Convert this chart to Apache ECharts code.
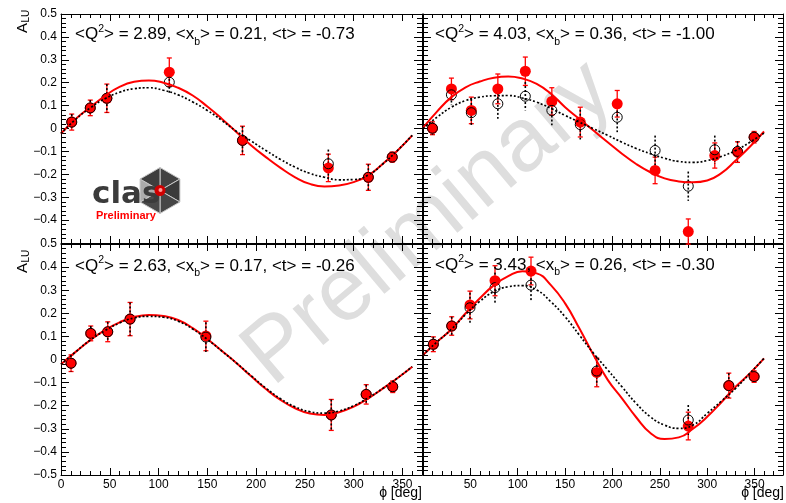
<!DOCTYPE html>
<html>
<head>
<meta charset="utf-8">
<script src="https://cdn.jsdelivr.net/npm/echarts@6/dist/echarts.min.js"></script>
<style>
  html, body { margin: 0; padding: 0; background: #fff; }
  #chart { width: 786px; height: 503px; }
</style>
</head>
<body>
<div id="chart"></div>
<script>
// ---- Kinematic bin labels ----
const headerQ2 = ['2.89', '4.03', '2.63', '3.43'];
const headerXb = ['0.21', '0.36', '0.17', '0.26'];
const headerT  = ['-0.73', '-1.00', '-0.26', '-0.30'];

// ---- Axis ticks ----
const yTicks = [-0.5, -0.4, -0.3, -0.2, -0.1, 0, 0.1, 0.2, 0.3, 0.4, 0.5];
const xTickStep = 50;

// ---- Bin 1: <Q2> = 2.89 ----
const phiP1      = [11, 30, 47, 111, 186, 274, 315, 339.5];
const fillP1     = [0.028, 0.09, 0.132, 0.246, -0.052, -0.172, -0.213, -0.125];
const fillErrP1  = [0.035, 0.034, 0.062, 0.062, 0.062, 0.06, 0.057, 0.022];
const openP1     = [0.028, 0.09, 0.132, 0.202, -0.052, -0.154, -0.213, -0.125];
const openErrP1  = [0.035, 0.034, 0.062, 0.05, 0.062, 0.062, 0.057, 0.022];

// ---- Bin 2: <Q2> = 4.03 ----
const phiP2      = [10, 30, 51, 79, 108, 136, 166, 205, 245, 280, 308, 332, 349.5];
const fillP2     = [0.001, 0.173, 0.079, 0.173, 0.25, 0.118, 0.028, 0.108, -0.183, -0.45, -0.118, -0.103, -0.038];
const fillErrP2  = [0.028, 0.047, 0.058, 0.065, 0.062, 0.06, 0.065, 0.058, 0.058, 0.055, 0.055, 0.045, 0.025];
const openP2     = [0.001, 0.147, 0.069, 0.108, 0.141, 0.079, 0.017, 0.049, -0.096, -0.252, -0.093, -0.1, -0.038];
const openErrP2  = [0.028, 0.045, 0.06, 0.065, 0.062, 0.065, 0.065, 0.065, 0.065, 0.064, 0.062, 0.045, 0.025];

// ---- Bin 3: <Q2> = 2.63 ----
const phiP3      = [10.3, 30.5, 47.9, 70.8, 148.5, 277, 312.8, 340];
const fillP3     = [-0.016, 0.113, 0.12, 0.175, 0.102, -0.24, -0.151, -0.118];
const fillErrP3  = [0.036, 0.032, 0.043, 0.072, 0.064, 0.067, 0.042, 0.025];
const openP3     = [-0.016, 0.113, 0.12, 0.175, 0.097, -0.24, -0.151, -0.118];
const openErrP3  = [0.036, 0.032, 0.043, 0.072, 0.064, 0.067, 0.042, 0.025];

// ---- Bin 4: <Q2> = 3.43 ----
const phiP4      = [10.9, 30.3, 49.6, 76, 114, 183.4, 280, 322.8, 349.5];
const fillP4     = [0.066, 0.145, 0.236, 0.341, 0.383, -0.056, -0.288, -0.113, -0.074];
const fillErrP4  = [0.032, 0.04, 0.06, 0.065, 0.06, 0.062, 0.06, 0.054, 0.025];
const openP4     = [0.066, 0.145, 0.224, 0.311, 0.322, -0.05, -0.262, -0.113, -0.074];
const openErrP4  = [0.032, 0.04, 0.065, 0.065, 0.065, 0.062, 0.065, 0.054, 0.025];

// ---- Fit curves, sampled every 15 degrees ----
const curvePhi = [0, 15, 30, 45, 60, 75, 90, 105, 120, 135, 150, 165, 180,
                  195, 210, 225, 240, 255, 270, 285, 300, 315, 330, 345, 360];

const fitSolidP1  = [-0.022, 0.042, 0.093, 0.142, 0.182, 0.204, 0.21, 0.2, 0.178, 0.144, 0.096, 0.042, -0.016,
                     -0.074, -0.125, -0.172, -0.213, -0.242, -0.253, -0.249, -0.234, -0.205, -0.154, -0.096, -0.03];
const fitDottedP1 = [-0.022, 0.04, 0.09, 0.13, 0.158, 0.174, 0.178, 0.167, 0.147, 0.116, 0.079, 0.035, -0.013,
                     -0.055, -0.096, -0.135, -0.169, -0.196, -0.213, -0.224, -0.223, -0.203, -0.154, -0.095, -0.03];
const fitSolidP2  = [0.003, 0.075, 0.137, 0.18, 0.205, 0.222, 0.227, 0.218, 0.195, 0.152, 0.093, 0.042, -0.009,
                     -0.06, -0.11, -0.155, -0.191, -0.218, -0.231, -0.235, -0.227, -0.195, -0.14, -0.08, -0.013];
const fitDottedP2 = [0.0, 0.05, 0.093, 0.122, 0.137, 0.143, 0.144, 0.133, 0.115, 0.088, 0.057, 0.028, -0.001,
                     -0.03, -0.06, -0.087, -0.11, -0.13, -0.144, -0.148, -0.14, -0.122, -0.096, -0.06, -0.02];
const fitSolidP3  = [-0.021, 0.033, 0.084, 0.127, 0.161, 0.184, 0.193, 0.188, 0.171, 0.136, 0.089, 0.037, -0.016,
                     -0.073, -0.128, -0.175, -0.211, -0.234, -0.24, -0.228, -0.204, -0.168, -0.125, -0.08, -0.031];
const fitDottedP3 = [-0.021, 0.033, 0.084, 0.125, 0.158, 0.18, 0.187, 0.183, 0.166, 0.132, 0.087, 0.036, -0.016,
                     -0.071, -0.124, -0.17, -0.205, -0.226, -0.232, -0.223, -0.2, -0.166, -0.125, -0.08, -0.031];
const fitSolidP4  = [0.019, 0.077, 0.131, 0.2, 0.265, 0.322, 0.361, 0.382, 0.373, 0.322, 0.243, 0.135, 0.019,
                     -0.088, -0.168, -0.25, -0.318, -0.344, -0.337, -0.3, -0.248, -0.185, -0.118, -0.06, 0.005];
const fitDottedP4 = [0.02, 0.077, 0.131, 0.195, 0.252, 0.294, 0.315, 0.32, 0.301, 0.25, 0.185, 0.106, 0.027,
                     -0.045, -0.118, -0.19, -0.248, -0.284, -0.298, -0.284, -0.233, -0.18, -0.125, -0.06, 0.005];

// ---- Layout of the four pads ----
const FONT = "'Liberation Sans', Arial, Helvetica, sans-serif";
const pads = [
  { grid: { left: 61,  top: 14,  width: 361, height: 229 }, xmax: 370, xLabels: false, yLabels: 'noMin',
    phi: phiP1, fill: fillP1, fillErr: fillErrP1, open: openP1, openErr: openErrP1,
    solid: fitSolidP1, dotted: fitDottedP1, head: [75, 34.5] },
  { grid: { left: 423, top: 14,  width: 360, height: 229 }, xmax: 380, xLabels: false, yLabels: false,
    phi: phiP2, fill: fillP2, fillErr: fillErrP2, open: openP2, openErr: openErrP2,
    solid: fitSolidP2, dotted: fitDottedP2, head: [435, 34.5] },
  { grid: { left: 61,  top: 244, width: 361, height: 231 }, xmax: 370, xLabels: 'all', yLabels: 'all',
    phi: phiP3, fill: fillP3, fillErr: fillErrP3, open: openP3, openErr: openErrP3,
    solid: fitSolidP3, dotted: fitDottedP3, head: [75, 266] },
  { grid: { left: 423, top: 244, width: 360, height: 231 }, xmax: 380, xLabels: 'noZero', yLabels: false,
    phi: phiP4, fill: fillP4, fillErr: fillErrP4, open: openP4, openErr: openErrP4,
    solid: fitSolidP4, dotted: fitDottedP4, head: [435, 265] }
];

const frameLine = { show: true, onZero: false, lineStyle: { color: '#000', width: 1 } };
const noLine = { show: false, onZero: false };
const tickStyle = { color: '#000', width: 1 };

function fmtY(v) {
  const r = Math.round(v * 10) / 10;
  if (r === 0) return '0';
  return (r < 0 ? '\u2212' : '') + Math.abs(r).toFixed(1);
}

function errorBars(color, dashed, capHalf) {
  return function (params, api) {
    const x = api.value(0), y = api.value(1), e = api.value(2);
    const hi = api.coord([x, y + e]);
    const lo = api.coord([x, y - e]);
    const style = { stroke: color, lineWidth: dashed ? 1.6 : 1.3, lineDash: dashed ? [2, 2] : null, fill: null };
    const children = [{ type: 'line', shape: { x1: hi[0], y1: hi[1], x2: lo[0], y2: lo[1] }, style: style }];
    if (capHalf) {
      children.push({ type: 'line', shape: { x1: hi[0] - capHalf, y1: hi[1], x2: hi[0] + capHalf, y2: hi[1] }, style: style });
      children.push({ type: 'line', shape: { x1: lo[0] - capHalf, y1: lo[1], x2: lo[0] + capHalf, y2: lo[1] }, style: style });
    }
    return { type: 'group', children: children };
  };
}

const grids = [], xAxes = [], yAxes = [], series = [];

pads.forEach(function (p, g) {
  grids.push(Object.assign({ containLabel: false, outerBoundsMode: 'none' }, p.grid));

  const xBase = { type: 'value', gridIndex: g, min: 0, max: p.xmax, splitLine: { show: false } };
  const xLabel = p.xLabels ? {
    show: true, color: '#000', fontSize: 12, fontFamily: FONT, margin: 4,
    formatter: function (v) {
      if (v % xTickStep !== 0) return '';
      if (p.xLabels === 'noZero' && v === 0) return '';
      return String(v);
    }
  } : { show: false };

  xAxes.push(Object.assign({}, xBase, { position: 'bottom', interval: xTickStep, axisLine: frameLine,
    axisTick: { show: true, inside: true, length: 7, lineStyle: tickStyle }, axisLabel: xLabel }));
  xAxes.push(Object.assign({}, xBase, { position: 'bottom', interval: 10, axisLine: noLine,
    axisTick: { show: true, inside: true, length: 4, lineStyle: tickStyle }, axisLabel: { show: false } }));
  xAxes.push(Object.assign({}, xBase, { position: 'top', interval: xTickStep, axisLine: frameLine,
    axisTick: { show: true, inside: true, length: 7, lineStyle: tickStyle }, axisLabel: { show: false } }));
  xAxes.push(Object.assign({}, xBase, { position: 'top', interval: 10, axisLine: noLine,
    axisTick: { show: true, inside: true, length: 4, lineStyle: tickStyle }, axisLabel: { show: false } }));

  const yBase = { type: 'value', gridIndex: g, min: yTicks[0], max: yTicks[yTicks.length - 1], interval: 0.1,
    splitLine: { show: false }, minorSplitLine: { show: false }, axisLine: frameLine,
    axisTick: { show: true, inside: true, length: 8, lineStyle: tickStyle },
    minorTick: { show: true, splitNumber: 5, length: 5, lineStyle: tickStyle } };
  const yLabel = p.yLabels ? {
    show: true, color: '#000', fontSize: 12, fontFamily: FONT, margin: 4,
    formatter: function (v) {
      if (p.yLabels === 'noMin' && v < -0.45) return '';
      return fmtY(v);
    }
  } : { show: false };
  yAxes.push(Object.assign({}, yBase, { position: 'left', axisLabel: yLabel }));
  yAxes.push(Object.assign({}, yBase, { position: 'right', axisLabel: { show: false } }));

  const xi = 4 * g, yi = 2 * g;
  const zip2 = function (a, b) { return a.map(function (v, i) { return [v, b[i]]; }); };
  const zip3 = function (a, b, c) { return a.map(function (v, i) { return [v, b[i], c[i]]; }); };

  series.push({ type: 'line', xAxisIndex: xi, yAxisIndex: yi, data: zip2(curvePhi, p.solid), smooth: true,
    showSymbol: false, silent: true, lineStyle: { color: '#ff0000', width: 2 } });
  series.push({ type: 'line', xAxisIndex: xi, yAxisIndex: yi, data: zip2(curvePhi, p.dotted), smooth: true,
    showSymbol: false, silent: true, lineStyle: { color: '#000', width: 1.7, type: [2, 2] } });
  series.push({ type: 'custom', xAxisIndex: xi, yAxisIndex: yi, data: zip3(p.phi, p.fill, p.fillErr),
    encode: { x: 0, y: 1 }, silent: true, renderItem: errorBars('#ff0000', false, 2.5) });
  series.push({ type: 'scatter', xAxisIndex: xi, yAxisIndex: yi, data: zip2(p.phi, p.fill), symbol: 'circle',
    symbolSize: 11, silent: true, itemStyle: { color: '#ff0000', opacity: 1 } });
  series.push({ type: 'custom', xAxisIndex: xi, yAxisIndex: yi, data: zip3(p.phi, p.open, p.openErr),
    encode: { x: 0, y: 1 }, silent: true, renderItem: errorBars('#000', true, 0) });
  series.push({ type: 'scatter', xAxisIndex: xi, yAxisIndex: yi, data: zip2(p.phi, p.open), symbol: 'circle',
    symbolSize: 10, silent: true, itemStyle: { color: 'rgba(0,0,0,0)', borderColor: '#000', borderWidth: 1, opacity: 1 } });
});

// ---- Annotations ----
const graphics = [];

// Watermark
graphics.push({ type: 'text', x: 429, y: 224, rotation: 40 * Math.PI / 180, z: -10, silent: true,
  style: { text: 'Preliminary', fontSize: 90, fontFamily: FONT, fill: '#dedede', align: 'center', verticalAlign: 'middle' } });

// Bin headers
pads.forEach(function (p, g) {
  graphics.push({ type: 'text', x: p.head[0], y: p.head[1], z: 20, silent: true,
    style: {
      text: '{n|<Q}{sup|2}{n|> = ' + headerQ2[g] + ', <x}{sub|b}{n|> = ' + headerXb[g] + ', <t> = ' + headerT[g] + '}',
      align: 'left', verticalAlign: 'middle',
      rich: {
        n:   { fontSize: 17, fontFamily: FONT, fill: '#000', lineHeight: 30, verticalAlign: 'middle' },
        sup: { fontSize: 10.5, fontFamily: FONT, fill: '#000', verticalAlign: 'middle', padding: [0, 0, 11, 0] },
        sub: { fontSize: 10.5, fontFamily: FONT, fill: '#000', verticalAlign: 'middle', padding: [15, 0, 0, 0] }
      }
    } });
});

// Y axis titles (A_LU), drawn rotated
[33, 273].forEach(function (yb) {
  graphics.push({ type: 'group', x: 28, y: yb, rotation: Math.PI / 2, z: 20, silent: true, children: [
    { type: 'text', x: 0, y: -5.5, style: { text: 'A', fontSize: 15, fontFamily: FONT, fill: '#000', align: 'left', verticalAlign: 'middle' } },
    { type: 'text', x: 10.5, y: -1.5, style: { text: 'LU', fontSize: 10, fontFamily: FONT, fill: '#000', align: 'left', verticalAlign: 'middle' } }
  ] });
});

// X axis titles
[422, 784].forEach(function (xr) {
  graphics.push({ type: 'text', x: xr, y: 493, z: 20, silent: true,
    style: { text: '\u03D5 [deg]', fontSize: 14, fontFamily: FONT, fill: '#000', align: 'right', verticalAlign: 'middle' } });
});

// CLAS logo with "Preliminary" tag
(function () {
  const cx = 160, cy = 190.5, r = 23;
  const v = [];
  for (let k = 0; k < 6; k++) {
    const a = -Math.PI / 2 + k * Math.PI / 3;
    v.push([cx + r * Math.cos(a), cy + r * Math.sin(a)]);
  }
  const shades = ['#424242', '#3a3a3a', '#464646', '#4a4a4a', '#ababab', '#3e3e3e'];
  const kids = [];
  for (let k = 0; k < 6; k++) {
    kids.push({ type: 'polygon', shape: { points: [[cx, cy], v[k], v[(k + 1) % 6]] },
      style: { fill: shades[k], stroke: '#c8c8c8', lineWidth: 1 } });
  }
  kids.push({ type: 'text', x: 92, y: 195, style: { text: 'clas', fontSize: 31, fontWeight: 'bold',
    fontFamily: "'DejaVu Sans', sans-serif", fill: '#3b3b3b', align: 'left', verticalAlign: 'middle' } });
  kids.push({ type: 'circle', shape: { cx: cx, cy: cy, r: 5.5 }, style: { fill: '#d00000' } });
  kids.push({ type: 'circle', shape: { cx: cx + 0.5, cy: cy - 0.5, r: 2 }, style: { fill: '#ff9a9a' } });
  kids.push({ type: 'text', x: 96, y: 215.5, style: { text: 'Preliminary', fontSize: 11, fontWeight: 'bold',
    fontFamily: FONT, fill: '#ff0000', align: 'left', verticalAlign: 'middle' } });
  graphics.push({ type: 'group', z: 15, silent: true, children: kids });
})();

const chart = echarts.init(document.getElementById('chart'), null, { renderer: 'canvas' });
chart.setOption({
  animation: false,
  backgroundColor: '#fff',
  grid: grids,
  xAxis: xAxes,
  yAxis: yAxes,
  series: series,
  graphic: { elements: graphics }
});
</script>
</body>
</html>
